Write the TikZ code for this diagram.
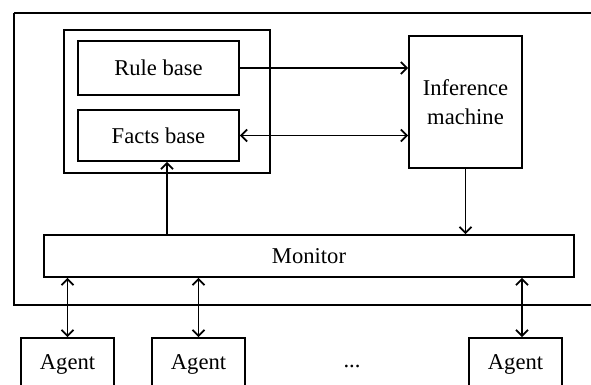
\documentclass[tikz,border=0pt]{standalone}
\usepackage{fontspec}
\setmainfont{Liberation Serif}
\usetikzlibrary{arrows.meta}

\begin{document}
\begin{tikzpicture}[x=0.5pt,y=-0.5pt,line width=0.9pt,
    >={Straight Barb[length=3pt,width=6pt,line width=0.9pt]},
    box/.style={draw,rectangle,inner sep=0pt,font=\fontsize{11.3}{14.5}\selectfont,align=center}]

                \clip (0,0) rectangle (591,385);

                % outer frame, cut at the right
                \draw (14,13) -- (620,13);
                \draw (620,305) -- (14,305) -- (14,13);

                \node[box, minimum width=103pt, minimum height=71.5pt] (group) at (167,101.5) {};
                \node[box, minimum width=80.5pt, minimum height=27pt] (rule) at (158.5,68) {Rule base};
                \node[box, minimum width=80.5pt, minimum height=25.5pt] (facts) at (158.5,135.5) {Facts base};
                \node[box, minimum width=56.5pt, minimum height=66pt] (infer) at (465.5,102) {Inference\\machine};
                \node[box, minimum width=265pt, minimum height=21pt] (monitor) at (309,256) {Monitor};

                \node[box, minimum width=46.5pt, minimum height=26pt] (agent1) at (67.5,364) {Agent};
                \node[box, minimum width=46.5pt, minimum height=26pt] (agent2) at (198.5,364) {Agent};
                \node[box, minimum width=46.5pt, minimum height=26pt] (agent3) at (515.5,364) {Agent};
                \node[font=\fontsize{11.3}{14.5}\selectfont] (dots) at (352,366) {...};

                \draw[->] (rule.east) -- (rule.east -| infer.west);
                \draw[<->] (facts.east) -- (facts.east -| infer.west);
                \draw[->] (group.south |- monitor.north) -- (group.south |- facts.south);
                \draw[->] (infer.south) -- (infer.south |- monitor.north);

                \draw[<->] (agent1.north |- monitor.south) -- (agent1.north);
                \draw[<->] (agent2.north |- monitor.south) -- (agent2.north);
                \draw[<->] ([xshift=3.25pt]agent3.north |- monitor.south) -- ([xshift=3.25pt]agent3.north);

            \end{tikzpicture}
\end{document}
